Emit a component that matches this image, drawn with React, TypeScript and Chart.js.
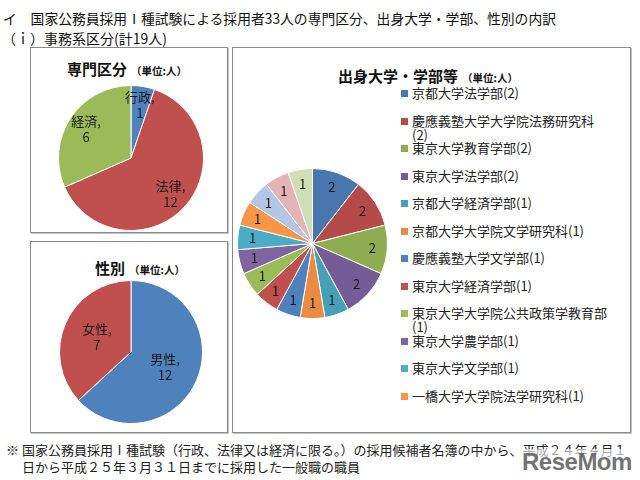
import React, { useEffect, useRef } from "react";
import { Chart, registerables } from "chart.js";

Chart.register(...registerables);

// ---- data ----
const fieldCategories = ["行政", "法律", "経済"];
const fieldValues = [1, 12, 6];
const fieldColors = ["#4F81BD", "#C0504D", "#9BBB59"];

const genderCategories = ["男性", "女性"];
const genderValues = [12, 7];
const genderColors = ["#4F81BD", "#C0504D"];

const schoolCategories = [
  "京都大学法学部",
  "慶應義塾大学大学院法務研究科",
  "東京大学教育学部",
  "東京大学法学部",
  "京都大学経済学部",
  "京都大学大学院文学研究科",
  "慶應義塾大学文学部",
  "東京大学経済学部",
  "東京大学大学院公共政策学教育部",
  "東京大学農学部",
  "東京大学文学部",
  "一橋大学大学院法学研究科",
  "その他",
  "その他",
  "その他",
];
const schoolValues = [2, 2, 2, 2, 1, 1, 1, 1, 1, 1, 1, 1, 1, 1, 1];
const schoolColors = [
  "#4A76AE",
  "#B34B48",
  "#8EAD50",
  "#765C96",
  "#45A0B8",
  "#E98C42",
  "#4F81BD",
  "#C0504D",
  "#9BBB59",
  "#8064A2",
  "#4BACC6",
  "#F79646",
  "#B3C6E4",
  "#E3B4B3",
  "#D0DEB8",
];
const legendVisibleCount = 12;

const pageTitle1 = "イ　国家公務員採用Ⅰ種試験による採用者33人の専門区分、出身大学・学部、性別の内訳";
const pageTitle2 = "（ｉ）事務系区分(計19人)";
const footnote1 = "※ 国家公務員採用Ⅰ種試験（行政、法律又は経済に限る。）の採用候補者名簿の中から、平成２４年４月１";
const footnote2 = "日から平成２５年３月３１日までに採用した一般職の職員";

const FONT = "'Noto Sans CJK JP', 'Noto Sans', sans-serif";

const sliceLabelPlugin = {
  id: "sliceLabels",
  afterDatasetsDraw(chart: any, _args: any, opts: any) {
    const { ctx } = chart;
    const meta = chart.getDatasetMeta(0);
    const ds = chart.data.datasets[0];
    ctx.save();
    ctx.font = `${opts.fontSize}px ${FONT}`;
    ctx.fillStyle = opts.color;
    ctx.textAlign = "center";
    ctx.textBaseline = "middle";
    meta.data.forEach((arc: any, i: number) => {
      const p = arc.getProps(["x", "y", "startAngle", "endAngle", "outerRadius"], true);
      const mid = (p.startAngle + p.endAngle) / 2;
      const r = p.outerRadius * opts.radius;
      const lx = p.x + Math.cos(mid) * r;
      const ly = p.y + Math.sin(mid) * r;
      const lines = opts.withCategory
        ? [chart.data.labels[i] + ",", String(ds.data[i])]
        : [String(ds.data[i])];
      lines.forEach((t: string, k: number) => {
        ctx.fillText(t, lx, ly + (k - (lines.length - 1) / 2) * opts.lineGap);
      });
    });
    ctx.restore();
  },
};

type PieProps = {
  labels: string[];
  values: number[];
  colors: string[];
  size: number;
  left: number;
  top: number;
  labelRadius: number;
  withCategory: boolean;
  fontSize: number;
  lineGap: number;
};

function PieCanvas(props: PieProps) {
  const ref = useRef<HTMLCanvasElement>(null);
  useEffect(() => {
    const chart = new Chart(ref.current as HTMLCanvasElement, {
      type: "pie",
      data: {
        labels: props.labels,
        datasets: [
          {
            data: props.values,
            backgroundColor: props.colors,
            borderColor: "#ffffff",
            borderWidth: 1,
            hoverOffset: 0,
            offset: 0,
          } as any,
        ],
      },
      options: {
        responsive: false,
        animation: false,
        events: [],
        layout: { padding: 0 },
        plugins: {
          legend: { display: false },
          tooltip: { enabled: false },
          sliceLabels: {
            radius: props.labelRadius,
            withCategory: props.withCategory,
            fontSize: props.fontSize,
            lineGap: props.lineGap,
            color: "#1a1a1a",
          },
        } as any,
      },
      plugins: [sliceLabelPlugin],
    });
    return () => chart.destroy();
  }, []);
  return (
    <canvas
      ref={ref}
      width={props.size}
      height={props.size}
      style={{ position: "absolute", left: props.left, top: props.top, width: props.size, height: props.size }}
    />
  );
}

const boxStyle = (left: number, top: number, width: number, height: number): React.CSSProperties => ({
  position: "absolute",
  left,
  top,
  width,
  height,
  boxSizing: "border-box",
  border: "1px solid #8a8a8a",
  boxShadow: "1px 1px 0 #c4c4c4",
  background: "#fff",
});

function BoxTitle({ text, left, top }: { text: string; left: number; top: number }) {
  return (
    <div style={{ position: "absolute", left, top, whiteSpace: "nowrap", lineHeight: "20px", color: "#111" }}>
      <span style={{ fontSize: 15, fontWeight: 700 }}>{text}</span>
      <span style={{ fontSize: 10.5, fontWeight: 700, marginLeft: 4 }}>（単位:人）</span>
    </div>
  );
}

export default function App() {
  return (
    <div
      style={{
        position: "absolute",
        left: 0,
        top: 0,
        width: 640,
        height: 480,
        background: "#fff",
        overflow: "hidden",
        fontFamily: FONT,
        color: "#111",
      }}
    >
      <div style={{ position: "absolute", left: 3, top: 8, fontSize: 13.8, lineHeight: "20px", whiteSpace: "nowrap" }}>
        {pageTitle1}
      </div>
      <div style={{ position: "absolute", left: 2, top: 28, fontSize: 14, lineHeight: "20px", whiteSpace: "nowrap" }}>
        {pageTitle2}
      </div>

      <div style={boxStyle(30, 47, 198, 186)} />
      <div style={boxStyle(30, 241, 198, 192)} />
      <div style={boxStyle(232, 47, 399, 386)} />

      <BoxTitle text="専門区分" left={67} top={58} />
      <BoxTitle text="性別" left={95} top={257} />
      <BoxTitle text="出身大学・学部等" left={338} top={65} />

      <PieCanvas
        labels={fieldCategories}
        values={fieldValues}
        colors={fieldColors}
        size={146}
        left={58}
        top={85}
        labelRadius={0.74}
        withCategory={true}
        fontSize={13}
        lineGap={16}
      />
      <PieCanvas
        labels={genderCategories}
        values={genderValues}
        colors={genderColors}
        size={144}
        left={59}
        top={280}
        labelRadius={0.52}
        withCategory={true}
        fontSize={13}
        lineGap={16}
      />
      <PieCanvas
        labels={schoolCategories}
        values={schoolValues}
        colors={schoolColors}
        size={151}
        left={237}
        top={168}
        labelRadius={0.8}
        withCategory={false}
        fontSize={13}
        lineGap={16}
      />

      {schoolCategories.slice(0, legendVisibleCount).map((c, i) => (
        <div
          key={i}
          style={{ position: "absolute", left: 401, top: 86 + i * 27.5, width: 210, height: 27.5, overflow: "visible" }}
        >
          <div
            style={{ position: "absolute", left: 0, top: 4, width: 7, height: 7, background: schoolColors[i] }}
          />
          <div
            style={{
              position: "absolute",
              left: 11,
              top: 0,
              width: 197,
              fontSize: 13,
              lineHeight: "14px",
              color: "#222",
              whiteSpace: "normal",
            }}
          >
            {c + "(" + schoolValues[i] + ")"}
          </div>
        </div>
      ))}

      <div style={{ position: "absolute", left: 6, top: 441, fontSize: 13, lineHeight: "17px", whiteSpace: "nowrap", color: "#222" }}>
        {footnote1}
      </div>
      <div style={{ position: "absolute", left: 22, top: 458, fontSize: 13, lineHeight: "17px", whiteSpace: "nowrap", color: "#222" }}>
        {footnote2}
      </div>
      <div
        style={{
          position: "absolute",
          left: 522,
          top: 449,
          fontSize: 24,
          fontWeight: 700,
          fontFamily: "'Liberation Sans Narrow', 'Liberation Sans', sans-serif",
          color: "rgba(90,90,90,0.85)",
          letterSpacing: -0.5,
          lineHeight: "26px",
          background: "rgba(255,255,255,0.6)",
        }}
      >
        ReseMom
      </div>
    </div>
  );
}
